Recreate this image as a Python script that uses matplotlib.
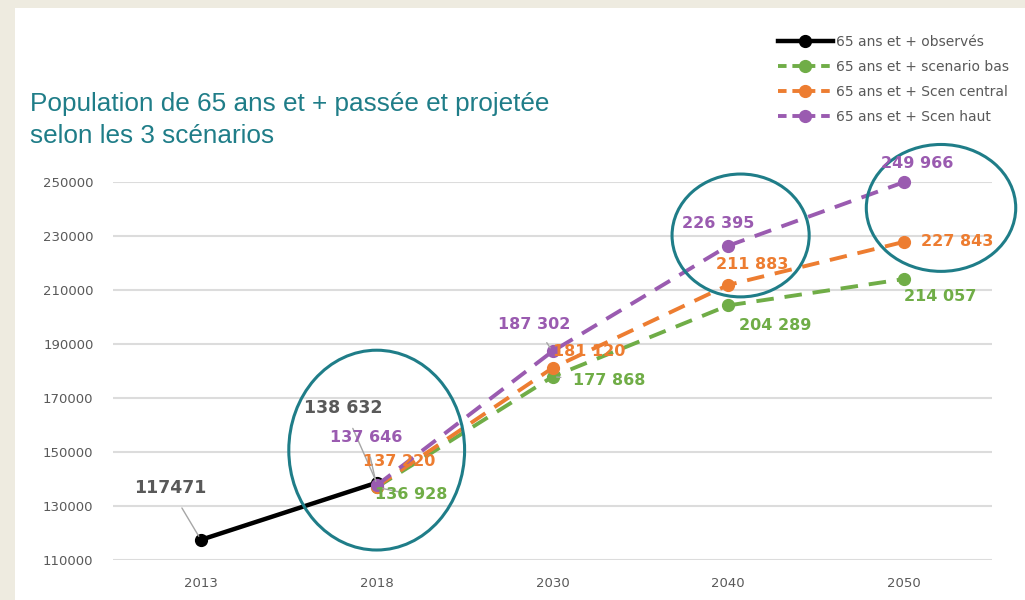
import numpy as np
import matplotlib
matplotlib.use("Agg")
import matplotlib.pyplot as plt
from matplotlib.patches import Ellipse, Rectangle
from matplotlib.lines import Line2D

# ---- data ----
years = ["2013", "2018", "2030", "2040", "2050"]
observes = [117471, 138632, np.nan, np.nan, np.nan]
scen_bas = [np.nan, 136928, 177868, 204289, 214057]
scen_central = [np.nan, 137220, 181120, 211883, 227843]
scen_haut = [np.nan, 137646, 187302, 226395, 249966]

series_names = ["65 ans et + observés", "65 ans et + scenario bas",
                "65 ans et + Scen central", "65 ans et + Scen haut"]
yticks = list(range(110000, 250001, 20000))
title = "Population de 65 ans et + passée et projetée\nselon les 3 scénarios"

# label offsets in pixels (dx, dy) per series per point, None = no label
obs_off = [(-31, 52), (-33, 75), None, None, None]
bas_off = [None, (34, -7), (57, -4), (47, -20), (36, -17)]
cen_off = [None, (22, 25), (37, 16), (24, 20), (53, 0)]
haut_off = [None, (-11, 48), (-18, 27), (-10, 22), (13, 19)]
# which labels get leader lines
obs_lead = [True, True, False, False, False]
bas_lead = [False, True, True, False, False]
cen_lead = [False, False, False, False, False]
haut_lead = [False, True, True, False, False]

# highlight ellipses: (center category, center value, width cat, height value)
ellipses = [(1.0, 150700, 1.0, 74000), (3.07, 230200, 0.78, 45500), (4.21, 240400, 0.85, 47000)]

C_OBS = "#000000"
C_BAS = "#70AD47"
C_CEN = "#ED7D31"
C_HAUT = "#9A5BB0"
C_OBS_LBL = "#595959"
C_TEAL = "#1F7D88"
GRID = "#DCDCDC"
TICKC = "#595959"

fig = plt.figure(figsize=(10.25, 6), dpi=100)
fig.patch.set_facecolor("#EEEBE0")
fig.patches.append(Rectangle((15 / 1025, 0), 1 - 15 / 1025, 1 - 8 / 600,
                             transform=fig.transFigure, facecolor="white",
                             edgecolor="none", zorder=-5))

ax = fig.add_axes([113 / 1025, 1 - 560 / 600, (992 - 113) / 1025, (560 - 182) / 600])
ax.set_zorder(2)
ax.set_facecolor("none")
x = np.arange(len(years))

ax.set_xlim(-0.5, len(years) - 0.5)
ax.set_ylim(yticks[0], yticks[-1])
ax.set_yticks(yticks)
ax.set_xticks(x)
ax.set_xticklabels(years)
for s in ax.spines.values():
    s.set_visible(False)
ax.grid(axis="y", color=GRID, linewidth=1.5)
ax.set_axisbelow(True)
ax.tick_params(length=0, colors=TICKC, labelsize=9.5)
ax.tick_params(axis="y", pad=14)
ax.tick_params(axis="x", pad=12)

dash = (0, (4.5, 2.8))
ax.plot(x, observes, color=C_OBS, lw=3.2, marker="o", ms=8.5, zorder=3, clip_on=False,
        solid_capstyle="round")
ax.plot(x, scen_bas, color=C_BAS, lw=2.8, ls=dash, marker="o", ms=8.5, zorder=4, clip_on=False)
ax.plot(x, scen_central, color=C_CEN, lw=2.8, ls=dash, marker="o", ms=8.5, zorder=5, clip_on=False)
ax.plot(x, scen_haut, color=C_HAUT, lw=2.8, ls=dash, marker="o", ms=8.5, zorder=6, clip_on=False)


def fmt(v, spaced=True):
    s = f"{int(v):,}"
    return s.replace(",", " ") if spaced else s.replace(",", "")


def add_labels(vals, offs, leads, color, size=11.5, spaced=True):
    for i, (v, o, ld) in enumerate(zip(vals, offs, leads)):
        if o is None or np.isnan(v):
            continue
        ap = dict(arrowstyle="-", color="#A6A6A6", lw=1.0, shrinkA=7, shrinkB=3) if ld else None
        ax.annotate(fmt(v, spaced and i > 0 or color != C_OBS_LBL), xy=(x[i], v), xytext=o,
                    textcoords="offset pixels",
                    ha="center", va="center", color=color, fontsize=size,
                    fontweight="bold", arrowprops=ap, zorder=8, annotation_clip=False)


add_labels(observes, obs_off, obs_lead, C_OBS_LBL, size=12.5)
add_labels(scen_bas, bas_off, bas_lead, C_BAS)
add_labels(scen_central, cen_off, cen_lead, C_CEN)
add_labels(scen_haut, haut_off, haut_lead, C_HAUT)

for (cx, cy, w, h) in ellipses:
    ax.add_patch(Ellipse((cx, cy), w, h, fill=False, edgecolor=C_TEAL, lw=2.2,
                         zorder=7, clip_on=False))

fig.text(30 / 1025, 1 - 92 / 600, title, color=C_TEAL, fontsize=18.8,
         family=["Liberation Sans", "DejaVu Sans"], va="top", ha="left", linespacing=1.4)

handles = [
    Line2D([], [], color=C_OBS, lw=3.2, marker="o", ms=8.5),
    Line2D([], [], color=C_BAS, lw=2.8, ls=(0, (2.2, 1.5)), marker="o", ms=8.5),
    Line2D([], [], color=C_CEN, lw=2.8, ls=(0, (2.2, 1.5)), marker="o", ms=8.5),
    Line2D([], [], color=C_HAUT, lw=2.8, ls=(0, (2.2, 1.5)), marker="o", ms=8.5),
]
leg = fig.legend(handles, series_names, loc="upper left",
                 bbox_to_anchor=(765 / 1025, 1 - 22 / 600), frameon=False,
                 handlelength=4.0, handletextpad=0.2, labelspacing=0.8,
                 prop=dict(size=10))
for t in leg.get_texts():
    t.set_color(TICKC)

fig.savefig("out.png", dpi=100, facecolor=fig.get_facecolor())
